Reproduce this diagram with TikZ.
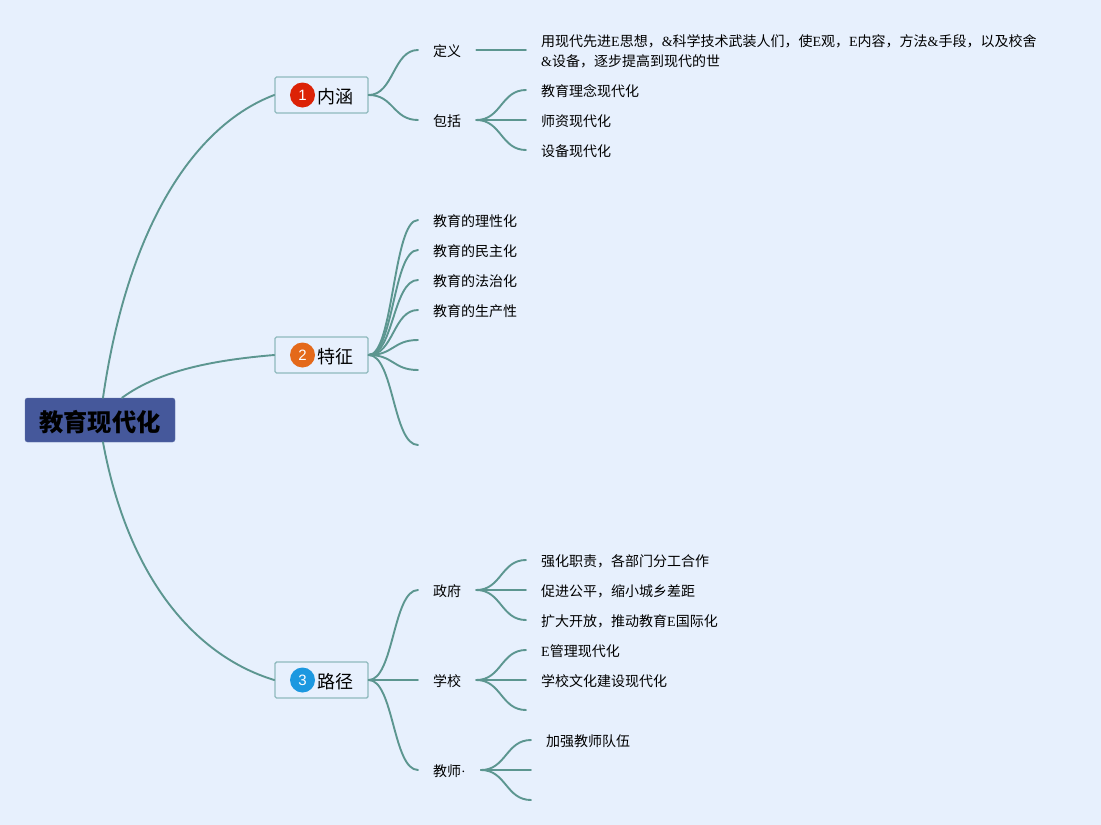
\documentclass[tikz,border=0pt]{standalone}
\usepackage{fontspec}
\setmainfont{Liberation Serif}
\newfontfamily\cjk{Noto Sans CJK SC}
\definecolor{bgc}{HTML}{E7F0FD}
\definecolor{edgec}{HTML}{5C9690}
\definecolor{rootc}{HTML}{45589B}
\definecolor{boxc}{HTML}{8FB9BE}
\definecolor{redc}{HTML}{DC2206}
\definecolor{orangec}{HTML}{E4691A}
\definecolor{bluec}{HTML}{1C98E0}
\newcommand\lat[1]{{\rmfamily #1}}
\tikzset{
  edge/.style={draw=edgec,line width=1.9pt,line cap=round},
  rootbox/.style={draw=rootc!85!white,fill=rootc,rounded corners=2.5pt,minimum width=150pt,minimum height=44pt,inner sep=0pt,text=black},
  roottext/.style={inner sep=0pt,font=\cjk\fontsize{24.3}{28}\selectfont\bfseries,text=black},
  branchbox/.style={draw=boxc,fill=bgc,line width=1.4pt,rounded corners=1.5pt,minimum width=93pt,minimum height=36pt,inner sep=0pt},
  badge/.style={circle,minimum size=25pt,inner sep=0pt,text=white!90!bgc,font=\fontspec{Liberation Sans}\fontsize{15}{15}\selectfont},
  blabel/.style={anchor=west,inner sep=0pt,font=\cjk\fontsize{18}{20}\selectfont,text=black},
  txt/.style={anchor=west,inner xsep=15pt,inner ysep=0pt,text height=13.3pt,text depth=1pt,font=\cjk\fontsize{14}{20}\selectfont,text=black},
  para/.style={anchor=west,inner xsep=15pt,inner ysep=0pt,font=\cjk\fontsize{14}{20}\selectfont,text=black,align=left},
}
\newcommand\lnk[3][25]{\draw[edge] (#2) .. controls +(#1,0) and +(-#1,0) .. (#3);}
\begin{document}
\begin{tikzpicture}[x=1pt,y=-1pt]
\useasboundingbox[fill=bgc] (0,0) rectangle (1101,825);
\node[rootbox] (root) at (100,420) {};
\node[roottext] (rt) at (100,422) {教育现代化};
\node[branchbox] (b1) at (321.5,95) {};
\node[branchbox] (b2) at (321.5,355) {};
\node[branchbox] (b3) at (321.5,680) {};
\node[badge,fill=redc] (i1) at (302.5,95) {1};
\node[badge,fill=orangec] (i2) at (302.5,355) {2};
\node[badge,fill=bluec] (i3) at (302.5,680) {3};
\node[blabel] (t1) at (317,97) {内涵};
\node[blabel] (t2) at (317,357) {特征};
\node[blabel] (t3) at (317,682) {路径};
% level 2
\node[txt] (n1) at (418,50) {定义};
\node[txt] (n2) at (418,120) {包括};
\node[txt] (m1) at (418,220) {教育的理性化};
\node[txt] (m2) at (418,250) {教育的民主化};
\node[txt] (m3) at (418,280) {教育的法治化};
\node[txt] (m4) at (418,310) {教育的生产性};
\coordinate (m5) at (418,340);
\coordinate (m6) at (418,370);
\coordinate (m7) at (418,445);
\node[txt] (p1) at (418,590) {政府};
\node[txt] (p2) at (418,680) {学校};
\node[txt] (p3) at (418,770) {教师\lat{·}};
% level 3
\node[para] (d1) at (526,51) {用现代先进\lat{E}思想，\lat{\&}科学技术武装人们，使\lat{E}观，\lat{E}内容，方法\lat{\&}手段，以及校舍\\\lat{\&}设备，逐步提高到现代的世};
\node[txt] (c1) at (526,90) {教育理念现代化};
\node[txt] (c2) at (526,120) {师资现代化};
\node[txt] (c3) at (526,150) {设备现代化};
\node[txt] (g1) at (526,560) {强化职责，各部门分工合作};
\node[txt] (g2) at (526,590) {促进公平，缩小城乡差距};
\node[txt] (g3) at (526,620) {扩大开放，推动教育\lat{E}国际化};
\node[txt] (s1) at (526,650) {\lat{E}管理现代化};
\node[txt] (s2) at (526,680) {学校文化建设现代化};
\coordinate (s3) at (526,710);
\node[txt] (f1) at (531,740) {加强教师队伍};
\coordinate (f2) at (531,770);
\coordinate (f3) at (531,800);
% root links
\draw[edge] ([xshift=3pt]root.north) .. controls (128,225) and (195,125) .. (b1.west);
\draw[edge] ([xshift=22pt]root.north) .. controls (160,370) and (215,360) .. (b2.west);
\draw[edge] ([xshift=3pt]root.south) .. controls (128,578) and (195,656) .. (b3.west);
% branch links
\lnk{b1.east}{n1.west}
\lnk{b1.east}{n2.west}
\foreach \k in {m1.west,m2.west,m3.west,m4.west,m5,m6,m7}{\lnk{b2.east}{\k}}
\lnk{b3.east}{p1.west}
\lnk{b3.east}{p2.west}
\lnk{b3.east}{p3.west}
\draw[edge] (n1.east) -- (n1.east -| d1.west);
\foreach \k in {c1,c2,c3}{\lnk{n2.east}{\k.west}}
\foreach \k in {g1,g2,g3}{\lnk{p1.east}{\k.west}}
\foreach \k in {s1.west,s2.west,s3}{\lnk{p2.east}{\k}}
\foreach \k in {f1.west,f2,f3}{\lnk{p3.east}{\k}}
\end{tikzpicture}
\end{document}
